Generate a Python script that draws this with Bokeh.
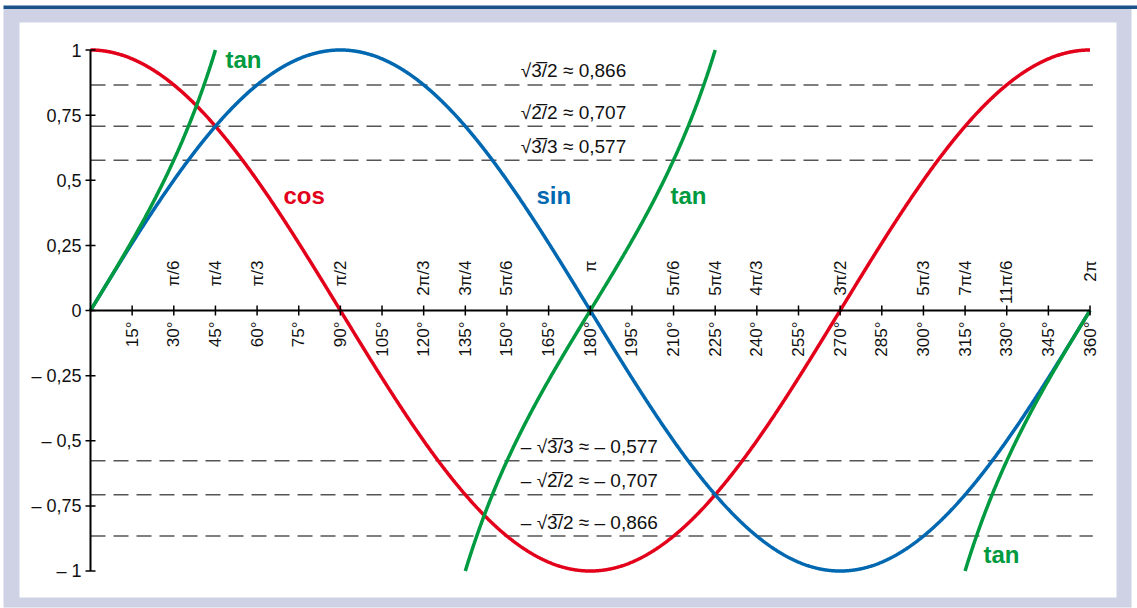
import numpy as np
from bokeh.plotting import figure
from bokeh.models import Range1d
from bokeh.embed import file_html
from bokeh.resources import INLINE
from bokeh.core.properties import value

# ---------------- data ----------------
deg = np.linspace(0, 360, 1441)
sin_vals = np.sin(np.radians(deg))
cos_vals = np.cos(np.radians(deg))
tan_branches = [(0, 45), (135, 225), (315, 360)]

y_ticks = [1, 0.75, 0.5, 0.25, 0, -0.25, -0.5, -0.75, -1]
y_tick_labels = ["1", "0,75", "0,5", "0,25", "0", "– 0,25", "– 0,5", "– 0,75", "– 1"]

x_ticks = list(range(15, 361, 15))
x_tick_labels = [f"{d}°" for d in x_ticks]

pi_ticks = [30, 45, 60, 90, 120, 135, 150, 180, 210, 225, 240, 270, 300, 315, 330, 360]
pi_labels = ["π/6", "π/4", "π/3", "π/2", "2π/3", "3π/4", "5π/6", "π",
             "5π/6", "5π/4", "4π/3", "3π/2", "5π/3", "7π/4", "11π/6", "2π"]

ref_values = [0.866, 0.707, 0.577, -0.577, -0.707, -0.866]
ref_labels = ["√3\u0305/2 ≈ 0,866", "√2\u0305/2 ≈ 0,707", "√3\u0305/3 ≈ 0,577",
              "– √3\u0305/3 ≈ – 0,577", "– √2\u0305/2 ≈ – 0,707", "– √3\u0305/2 ≈ – 0,866"]
ref_label_x = 155

func_labels = ["tan", "cos", "sin", "tan", "tan"]
func_label_x = [48.6, 69.5, 160.6, 208.9, 321.6]
func_label_y = [0.933, 0.411, 0.411, 0.411, -0.967]

RED = "#E2001A"
BLUE = "#0067B1"
GREEN = "#009A40"
func_colors = [GREEN, RED, BLUE, GREEN, GREEN]

FONT = value("Liberation Sans")
TXT = "#111111"

# ---------------- figure ----------------
p = figure(width=1137, height=608,
           x_range=Range1d(-32.416, 377.1), y_range=Range1d(-1.14395, 1.19002),
           output_backend="svg", toolbar_location=None, min_border=0,
           x_axis_type=None, y_axis_type=None)
p.outline_line_color = None
p.background_fill_color = "white"
p.border_fill_color = "white"


def X(px):
    return (px - 90) / 2.7764


def Y(py):
    return (310 - py) / 260.5


# frame decoration
p.quad(left=[X(3)], right=[X(1131)], top=[Y(8)], bottom=[Y(607)], color="#CED2E4", line_width=0)
p.quad(left=[X(3)], right=[X(1140)], top=[Y(5)], bottom=[Y(8.5)], color="#1B5189", line_width=0)
p.quad(left=[X(19)], right=[X(1116)], top=[Y(22)], bottom=[Y(597)], color="white", line_width=0)

# reference dashed lines
p.segment(x0=[0] * len(ref_values), x1=[361] * len(ref_values), y0=ref_values, y1=ref_values,
          line_color="#555555", line_width=1.5, line_dash="15 8")

# curves
p.line(deg, cos_vals, line_color=RED, line_width=3.5)
p.line(deg, sin_vals, line_color=BLUE, line_width=3.5)
for a, b in tan_branches:
    d = deg[(deg >= a) & (deg <= b)]
    p.line(d, np.tan(np.radians(d)), line_color=GREEN, line_width=3.5)

# axes
p.segment(x0=[0, 0], x1=[360, 0], y0=[0, -1], y1=[0, 1], line_color="black", line_width=2)
p.scatter(x=x_ticks, y=[0] * len(x_ticks), marker="dash", size=10, angle=np.pi / 2,
          line_color="black", line_width=1.5)
p.scatter(x=[0] * len(y_ticks), y=y_ticks, marker="dash", size=10,
          line_color="black", line_width=1.5)

# tick labels
p.text(x=[0] * len(y_ticks), y=y_ticks, text=y_tick_labels, x_offset=-9,
       text_align="right", text_baseline="middle", text_font=FONT,
       text_font_size="18px", text_color=TXT)
p.text(x=x_ticks, y=[0] * len(x_ticks), text=x_tick_labels, angle=np.pi / 2, y_offset=11,
       text_align="right", text_baseline="middle", text_font=FONT,
       text_font_size="17px", text_color=TXT)
p.text(x=pi_ticks, y=[0] * len(pi_ticks), text=pi_labels, angle=np.pi / 2, y_offset=-50,
       text_align="right", text_baseline="middle", text_font=FONT,
       text_font_size="17px", text_color=TXT)

# reference labels
p.text(x=[ref_label_x] * len(ref_values), y=ref_values, text=ref_labels, y_offset=-14,
       text_align="left", text_baseline="alphabetic", text_font=FONT,
       text_font_size="19px", text_color=TXT)

# function labels
p.text(x=func_label_x, y=func_label_y, text=func_labels, text_color=func_colors,
       y_offset=-8, text_align="left", text_baseline="alphabetic", text_font=FONT,
       text_font_size="24px", text_font_style="bold")

open("out.html", "w").write(file_html(p, INLINE))
